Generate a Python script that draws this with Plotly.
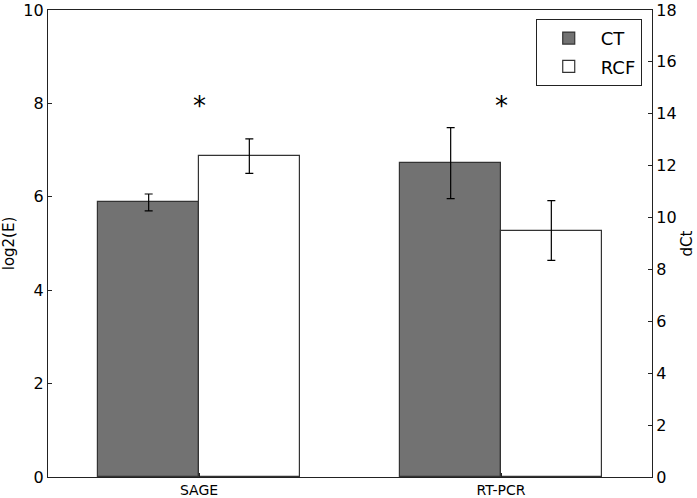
import plotly.graph_objects as go

# data
groups = ["SAGE", "RT-PCR"]
series = ["CT", "RCF"]
sage_vals = [5.88, 6.87]        # log2(E), left axis
sage_err = [0.18, 0.37]
rtpcr_vals = [12.1, 9.5]        # dCt, right axis
rtpcr_err = [1.37, 1.15]
star_level = 7.95

colors = {"CT": "#727272", "RCF": "#ffffff"}
edge = "#333333"
width = 1 / 3
offsets = {"CT": -1 / 3, "RCF": 0}
font = "DejaVu Sans"

fig = go.Figure()

for i, s in enumerate(series):
    fig.add_trace(go.Bar(
        x=[groups[0]], y=[sage_vals[i]], name=s, width=width, offset=offsets[s],
        marker=dict(color=colors[s], line=dict(color=edge, width=1.2)),
        error_y=dict(type="data", array=[sage_err[i]], color="black", thickness=1.2, width=4),
        yaxis="y", legendgroup=s, showlegend=True,
    ))
    fig.add_trace(go.Bar(
        x=[groups[1]], y=[rtpcr_vals[i]], name=s, width=width, offset=offsets[s],
        marker=dict(color=colors[s], line=dict(color=edge, width=1.2)),
        error_y=dict(type="data", array=[rtpcr_err[i]], color="black", thickness=1.2, width=4),
        yaxis="y2", legendgroup=s, showlegend=False,
    ))

for g in groups:
    fig.add_annotation(x=g, y=star_level, xref="x", yref="y", text="*",
                       showarrow=False, font=dict(family=font, size=26, color="black"),
                       yanchor="middle")

axis_line = dict(showline=True, linecolor="#222222", linewidth=1.3)

fig.update_layout(
    width=697, height=498,
    margin=dict(l=48, r=45, t=10, b=21),
    plot_bgcolor="white", paper_bgcolor="white",
    font=dict(family=font, color="black"),
    xaxis=dict(categoryorder="array", categoryarray=groups, range=[-0.5, 1.5],
               ticks="inside", ticklen=4, tickcolor="#222222", mirror=True,
               tickfont=dict(size=14), showgrid=False, automargin=False, **axis_line),
    yaxis=dict(range=[0, 10], dtick=2, ticks="inside", ticklen=4, tickcolor="#222222",
               tickfont=dict(size=16), showgrid=False, zeroline=False,
               title=dict(text="log2(E)", font=dict(size=15), standoff=5),
               automargin=False, **axis_line),
    yaxis2=dict(range=[0, 18], dtick=2, overlaying="y", side="right",
                ticks="inside", ticklen=4, tickcolor="#222222",
                tickfont=dict(size=16), showgrid=False, zeroline=False,
                title=dict(text="dCt", font=dict(size=15), standoff=5),
                automargin=False, **axis_line),
    legend=dict(x=0.983, y=0.981, xanchor="right", yanchor="top",
                bgcolor="white", bordercolor="#222222", borderwidth=1,
                font=dict(size=18), itemwidth=54, tracegroupgap=2),
    showlegend=True,
    bargap=0,
)

fig.write_html("out.html", config={"displayModeBar": False},
               post_script="document.body.style.margin='0';")
